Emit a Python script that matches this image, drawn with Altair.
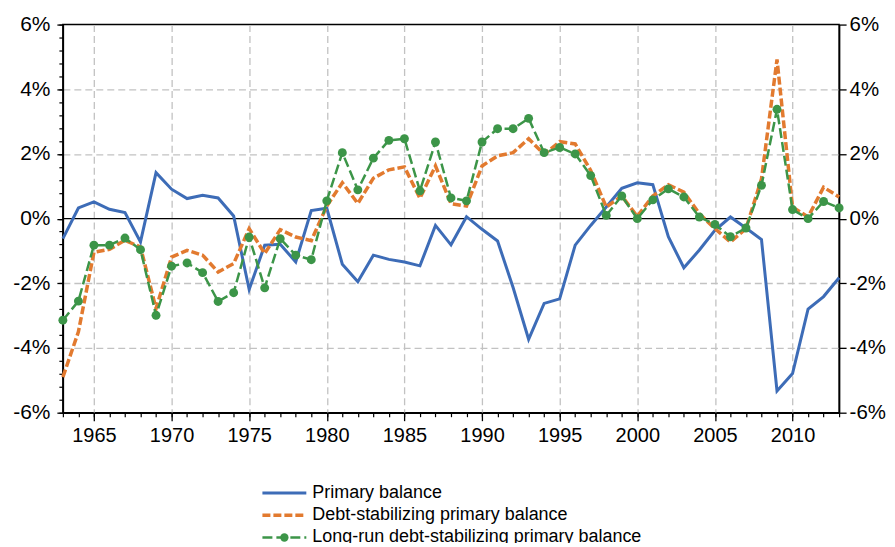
import altair as alt
import pandas as pd

years = list(range(1963, 2014))
primary = [-0.62, 0.33, 0.52, 0.29, 0.19, -0.72, 1.42, 0.91, 0.62, 0.72,
           0.64, 0.08, -2.19, -0.82, -0.79, -1.34, 0.25,
           0.32, -1.41, -1.95, -1.13, -1.26, -1.34, -1.46, -0.21, -0.81, 0.06,
           -0.33, -0.69, -2.13, -3.73, -2.62, -2.48, -0.82, -0.21, 0.36, 0.94,
           1.11, 1.05, -0.56, -1.52, -0.97, -0.36, 0.05, -0.29, -0.65, -5.33,
           -4.79, -2.80, -2.41, -1.83]
debt_stab = [-4.9, -3.5, -1.04, -0.95, -0.67, -0.88, -2.78, -1.19, -0.98, -1.13,
             -1.65, -1.39, -0.31, -1.08, -0.34, -0.57, -0.68,
             0.39, 1.11, 0.47, 1.25, 1.51, 1.60, 0.63, 1.63, 0.46, 0.39,
             1.63, 1.94, 2.04, 2.47, 1.99, 2.38, 2.31, 1.49, 0.36, 0.70,
             0.07, 0.70, 1.05, 0.82, 0.15, -0.31, -0.72, -0.31, 1.23, 4.92,
             0.36, 0.05, 0.97, 0.67]
long_run = [-3.14, -2.55, -0.82, -0.82, -0.60, -0.96, -2.99, -1.47, -1.37, -1.67,
            -2.56, -2.29, -0.57, -2.14, -0.62, -1.13, -1.27,
            0.55, 2.04, 0.89, 1.87, 2.42, 2.47, 0.86, 2.37, 0.64, 0.55,
            2.37, 2.78, 2.78, 3.10, 2.04, 2.20, 2.00, 1.33, 0.10, 0.70,
            0.00, 0.58, 0.92, 0.67, 0.05, -0.18, -0.56, -0.29, 1.03, 3.38,
            0.28, 0.00, 0.53, 0.33]
series_names = ["Primary balance", "Debt-stabilizing primary balance",
                "Long-run debt-stabilizing primary balance"]
x_major = [1965, 1970, 1975, 1980, 1985, 1990, 1995, 2000, 2005, 2010]
y_major = [-6, -4, -2, 0, 2, 4, 6]
y_grid = [-4, -2, 2, 4]
y_minor = [round(-6 + 0.4 * i, 1) for i in range(31)]

FONT = "Liberation Sans"
BLUE = "#3d6cb7"
ORANGE = "#e27a2f"
GREEN = "#3c9548"
GRID = "#c2c2c2"
ORANGE_DASH = [8, 3]
GREEN_DASH = [10, 4]

df = pd.DataFrame({"year": years, "primary": primary, "debt": debt_stab, "lr": long_run})
xscale = alt.Scale(domain=[1963, 2013], nice=False, zero=False)
yscale = alt.Scale(domain=[-6, 6], nice=False, zero=False)

base = alt.Chart(df)

zero = alt.Chart(pd.DataFrame({"v": [0]})).mark_rule(color="black", strokeWidth=1.3).encode(
    y=alt.Y("v:Q", scale=yscale, axis=alt.Axis(
        orient="left", values=y_grid, grid=True, gridDash=[7, 4], gridColor=GRID, gridWidth=1.3,
        labels=False, ticks=False, domain=False, title=None))
)

blue = base.mark_line(color=BLUE, strokeWidth=3).encode(
    x=alt.X("year:Q", scale=xscale, axis=alt.Axis(
        orient="bottom", values=x_major, format="d", grid=True, gridDash=[7, 4], gridColor=GRID,
        gridWidth=1.3, tickSize=8, tickColor="black", tickWidth=1.3, domainColor="black",
        domainWidth=1.5, labelFontSize=20, labelPadding=5, labelColor="black", labelFont=FONT,
        title=None)),
    y=alt.Y("primary:Q", scale=yscale, axis=alt.Axis(
        orient="left", values=y_major, labelExpr="datum.value + '%'", grid=False, tickSize=6,
        tickColor="black", tickWidth=1.3, domainColor="black", domainWidth=1.5,
        labelFontSize=21, labelPadding=7, labelColor="black", labelFont=FONT, title=None))
)

orange = base.mark_line(color=ORANGE, strokeWidth=3.5, strokeDash=ORANGE_DASH).encode(
    x=alt.X("year:Q", scale=xscale, axis=alt.Axis(
        orient="bottom", values=years, labels=False, grid=False, tickSize=4, tickColor="black",
        tickWidth=1.2, domain=False, title=None)),
    y=alt.Y("debt:Q", scale=yscale, axis=alt.Axis(
        orient="left", values=y_minor, labels=False, grid=False, tickSize=4, tickColor="black",
        tickWidth=1.2, domain=False, title=None))
)

green_line = base.mark_line(color=GREEN, strokeWidth=2.5, strokeDash=GREEN_DASH).encode(
    x=alt.X("year:Q", scale=xscale, axis=None),
    y=alt.Y("lr:Q", scale=yscale, axis=alt.Axis(
        orient="right", values=y_major, labelExpr="datum.value + '%'", grid=False, tickSize=7,
        tickColor="black", tickWidth=1.3, domainColor="black", domainWidth=1.5,
        labelFontSize=20.5, labelPadding=3, labelColor="black", labelFont=FONT, title=None))
)

green_pts = base.mark_circle(color=GREEN, size=80, opacity=1).encode(
    x=alt.X("year:Q", scale=xscale, axis=None),
    y=alt.Y("lr:Q", scale=yscale, axis=None)
)

legend_df = pd.DataFrame({"label": series_names})
legend_layers = []
styles = [
    dict(color=BLUE, strokeWidth=3),
    dict(color=ORANGE, strokeWidth=3.5, strokeDash=ORANGE_DASH),
    dict(color=GREEN, strokeWidth=2.5, strokeDash=GREEN_DASH),
]
for i, st in enumerate(styles):
    ly = 469.5 + i * 22.3
    sub = alt.Chart(legend_df.iloc[[i]])
    legend_layers.append(
        sub.mark_rule(**st).encode(x=alt.value(200), x2=alt.value(244), y=alt.value(ly))
    )
    if i == 2:
        legend_layers.append(
            sub.mark_circle(color=GREEN, size=70, opacity=1).encode(x=alt.value(222), y=alt.value(ly))
        )
    legend_layers.append(
        sub.mark_text(align="left", baseline="middle", fontSize=18, font=FONT, color="black").encode(
            text="label:N", x=alt.value(250), y=alt.value(ly))
    )

chart = alt.layer(zero, blue, orange, green_line, green_pts, *legend_layers).resolve_axis(
    x="independent", y="independent"
).properties(
    width=778, height=389,
    autosize=alt.AutoSizeParams(type="none"),
    padding={"left": 55, "top": 16, "right": 48, "bottom": 130},
).configure_view(stroke="black", strokeWidth=1.5)

chart.save("out.html", embed_options={"renderer": "svg", "actions": False})
